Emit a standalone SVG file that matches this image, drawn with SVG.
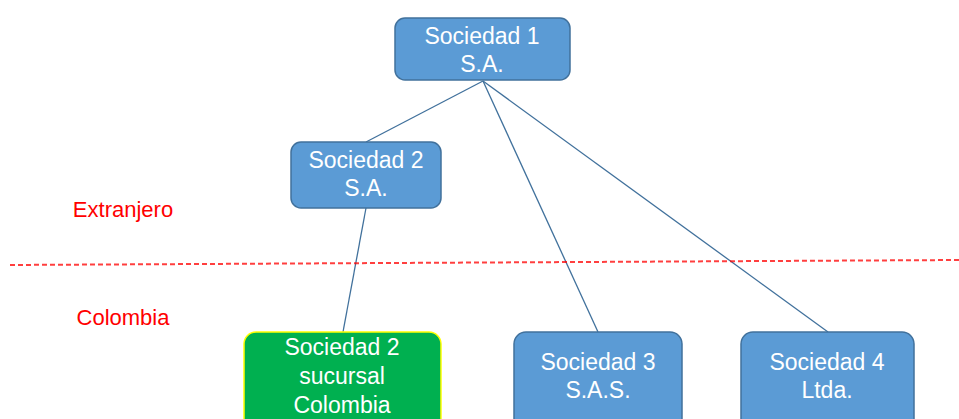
<svg xmlns="http://www.w3.org/2000/svg" width="959" height="419" viewBox="0 0 959 419">
<style>
.box{fill:#5B9BD5;stroke:#41719C;stroke-width:1.5}
.green{fill:#00B050;stroke:#FFFF00;stroke-width:1.5}
.t{font-family:"Liberation Sans",Arial,sans-serif;font-size:23px;fill:#FFFFFF;text-anchor:middle}
.r{font-family:"Liberation Sans",Arial,sans-serif;font-size:22px;fill:#FF0000;text-anchor:middle}
.c{stroke:#41719C;stroke-width:1.3;fill:none}
</style>
<rect width="959" height="419" fill="#FFFFFF"/>
<g id="connectors">
<line class="c" x1="483" y1="81" x2="366" y2="142"/>
<line class="c" x1="483" y1="81" x2="598" y2="332"/>
<line class="c" x1="483" y1="81" x2="828" y2="332"/>
<line class="c" x1="366" y1="208" x2="343" y2="332"/>
</g>
<line id="border" x1="10" y1="265" x2="959" y2="260" stroke="#FF0000" stroke-width="2" stroke-dasharray="5,3" opacity="0.75"/>
<text id="extranjero" class="r" x="123" y="217">Extranjero</text>
<text id="colombia" class="r" x="123" y="325">Colombia</text>
<g id="sociedad1">
<rect class="box" x="395" y="18" width="175" height="62" rx="10"/>
<text class="t" x="482" y="44">Sociedad 1</text>
<text class="t" x="482" y="72">S.A.</text>
</g>
<g id="sociedad2">
<rect class="box" x="291" y="142" width="150" height="66" rx="10"/>
<text class="t" x="366" y="168">Sociedad 2</text>
<text class="t" x="366" y="196">S.A.</text>
</g>
<g id="sociedad2suc">
<rect class="green" x="244" y="332" width="197" height="100" rx="12"/>
<text class="t" x="342" y="355">Sociedad 2</text>
<text class="t" x="342" y="384">sucursal</text>
<text class="t" x="342" y="413">Colombia</text>
</g>
<g id="sociedad3">
<rect class="box" x="514" y="332" width="168" height="100" rx="12"/>
<text class="t" x="598" y="370">Sociedad 3</text>
<text class="t" x="598" y="398">S.A.S.</text>
</g>
<g id="sociedad4">
<rect class="box" x="741" y="332" width="173" height="100" rx="12"/>
<text class="t" x="827" y="370">Sociedad 4</text>
<text class="t" x="827" y="398">Ltda.</text>
</g>
</svg>
